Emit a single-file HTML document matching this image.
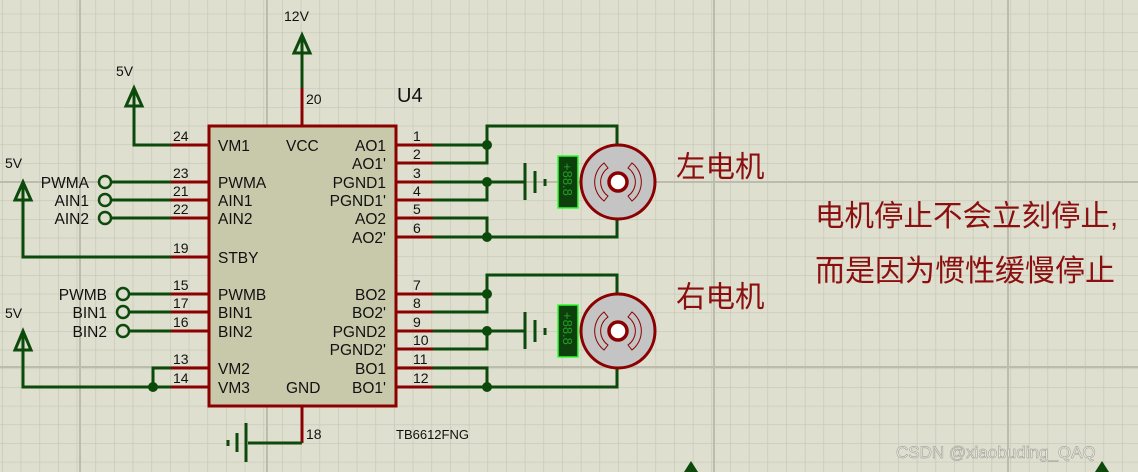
<!DOCTYPE html>
<html><head><meta charset="utf-8"><style>
html,body{margin:0;padding:0;background:#dfdfd0;}
svg{display:block;}
text{font-family:"Liberation Sans",Arial,sans-serif;fill:#111;}
.cn{font-family:"Liberation Sans","Noto Sans CJK SC",sans-serif;fill:#8b0f0f;}
</style></head><body>
<svg width="1138" height="472" viewBox="0 0 1138 472" xmlns="http://www.w3.org/2000/svg">
<defs>
<pattern id="g" x="2" y="13.7" width="18.67" height="18.67" patternUnits="userSpaceOnUse">
<path d="M0 0H18.67M0 0V18.67" stroke="#c6c6b6" stroke-width="1.3" fill="none"/>
</pattern>
<g id="motor">
<circle cx="0" cy="0" r="37" fill="#c4c4c4" stroke="#8b0000" stroke-width="3"/>
<circle cx="0" cy="0" r="9" fill="#fff" stroke="#8b0000" stroke-width="3.5"/>
<path d="M-14,-19 A24,24 0 0 0 -14,19 L-10,14 A17,17 0 0 1 -10,-14 Z" fill="none" stroke="#8b0000" stroke-width="1"/>
<path d="M14,-19 A24,24 0 0 1 14,19 L10,14 A17,17 0 0 0 10,-14 Z" fill="none" stroke="#8b0000" stroke-width="1"/>
</g>
</defs>
<rect width="1138" height="472" fill="#dfdfd0"/>
<rect width="1138" height="472" fill="url(#g)"/>
<g stroke="#bcbcac" stroke-width="2">
<path d="M80 0V472M267 0V472M714 0V472M1008 0V472M0 182H1138M0 367H1138"/>
</g>

<rect x="209" y="126" width="187" height="280" fill="#c8c8aa" stroke="#8b0000" stroke-width="3"/>
<g stroke="#8b0000" stroke-width="3">
<path d="M302 88V126M302 406V443"/>
<path d="M171 145H209M171 182H209M171 200H209M171 218H209M171 257H209M171 294H209M171 312H209M171 331H209M171 368H209M171 387H209"/>
<path d="M396 145H433M396 163H433M396 182H433M396 200H433M396 218H433M396 237H433M396 294H433M396 312H433M396 331H433M396 349H433M396 368H433M396 387H433"/>
</g>
<g stroke="#0b4a0b" stroke-width="3" fill="none">
<path d="M302 88V35"/>
<path d="M294 53L302 35L310 53Z"/>
<path d="M134 88V145H171"/>
<path d="M126 106L134 88L142 106Z"/>
<path d="M23 182V257H171"/>
<path d="M15 200L23 182L31 200Z"/>
<path d="M23 331V387H171M153 387V368H171"/>
<path d="M15 350L23 331L31 350Z"/>
<path d="M111 182H171M111 200H171M111 218H171"/>
<path d="M129 294H171M129 312H171M129 331H171"/>
<path d="M302 443H248"/>
<path d="M246 423V462M237 433V452M228 440V446"/>
<path d="M433 145H487M433 163H487V126H617V144M617 219V237H433M433 218H487V237M433 182H525M433 200H487V182"/>
<path d="M525 163V200M535 171V193M545 179V186"/>
<path d="M433 294H487M433 312H487V275H617V293M617 368V387H433M433 368H487V387M433 331H525M433 349H487V331"/>
<path d="M525 312V349M535 320V342M545 328V335"/>
</g>
<g fill="#0b4a0b">
<circle cx="487" cy="145" r="5"/><circle cx="487" cy="182" r="5"/><circle cx="487" cy="237" r="5"/>
<circle cx="487" cy="294" r="5"/><circle cx="487" cy="331" r="5"/><circle cx="487" cy="387" r="5"/>
<circle cx="153" cy="387" r="5"/>
</g>
<g fill="#dfdfd0" stroke="#0b4a0b" stroke-width="2.5">
<circle cx="105" cy="182" r="6"/><circle cx="105" cy="200" r="6"/><circle cx="105" cy="218" r="6"/>
<circle cx="123" cy="294" r="6"/><circle cx="123" cy="312" r="6"/><circle cx="123" cy="331" r="6"/>
</g>
<g>
<rect x="558" y="156" width="20" height="52" fill="#0d400d" stroke="#2aff2a" stroke-width="1.5"/>
<text transform="translate(563,163) rotate(90)" font-size="13" style="fill:#22a022">+88.8</text>
<rect x="558" y="305" width="20" height="52" fill="#0d400d" stroke="#2aff2a" stroke-width="1.5"/>
<text transform="translate(563,312) rotate(90)" font-size="13" style="fill:#22a022">+88.8</text>
</g>
<use href="#motor" x="618" y="182"/>
<use href="#motor" x="618" y="331"/>

<g font-size="15.5">
<text x="218" y="151">VM1</text><text x="286" y="151">VCC</text><text x="386" y="151" text-anchor="end">AO1</text>
<text x="386" y="169" text-anchor="end">AO1'</text>
<text x="218" y="188">PWMA</text><text x="386" y="188" text-anchor="end">PGND1</text>
<text x="218" y="206">AIN1</text><text x="386" y="206" text-anchor="end">PGND1'</text>
<text x="218" y="224">AIN2</text><text x="386" y="224" text-anchor="end">AO2</text>
<text x="386" y="243" text-anchor="end">AO2'</text>
<text x="218" y="263">STBY</text>
<text x="218" y="300">PWMB</text><text x="386" y="300" text-anchor="end">BO2</text>
<text x="218" y="318">BIN1</text><text x="386" y="318" text-anchor="end">BO2'</text>
<text x="218" y="337">BIN2</text><text x="386" y="337" text-anchor="end">PGND2</text>
<text x="386" y="355" text-anchor="end">PGND2'</text>
<text x="218" y="374">VM2</text><text x="386" y="374" text-anchor="end">BO1</text>
<text x="218" y="393">VM3</text><text x="286" y="393">GND</text><text x="386" y="393" text-anchor="end">BO1'</text>
<text x="89" y="188" text-anchor="end">PWMA</text>
<text x="89" y="206" text-anchor="end">AIN1</text>
<text x="89" y="224" text-anchor="end">AIN2</text>
<text x="107" y="300" text-anchor="end">PWMB</text>
<text x="107" y="318" text-anchor="end">BIN1</text>
<text x="107" y="337" text-anchor="end">BIN2</text>
</g>
<g font-size="14">
<text x="173" y="141">24</text><text x="173" y="178">23</text><text x="173" y="196">21</text><text x="173" y="214">22</text><text x="173" y="253">19</text>
<text x="173" y="290">15</text><text x="173" y="308">17</text><text x="173" y="327">16</text><text x="173" y="364">13</text><text x="173" y="383">14</text>
<text x="413" y="141">1</text><text x="413" y="159">2</text><text x="413" y="178">3</text><text x="413" y="196">4</text><text x="413" y="214">5</text><text x="413" y="233">6</text>
<text x="413" y="290">7</text><text x="413" y="308">8</text><text x="413" y="327">9</text><text x="413" y="345">10</text><text x="413" y="364">11</text><text x="413" y="383">12</text>
<text x="306" y="104">20</text><text x="306" y="439">18</text>
<text x="284" y="21">12V</text><text x="116" y="76">5V</text><text x="5" y="168">5V</text><text x="5" y="318">5V</text>
<text x="396" y="439" font-size="13">TB6612FNG</text>
</g>
<text x="397" y="102" font-size="20">U4</text>
<text class="cn" x="676" y="177" font-size="29.5">左电机</text>
<text class="cn" x="676" y="307" font-size="29.5">右电机</text>
<text class="cn" x="815" y="226" font-size="29.5">电机停止不会立刻停止,</text>
<text class="cn" x="815" y="281" font-size="30">而是因为惯性缓慢停止</text>
<text x="896" y="458" font-size="17" style="fill:#f2f2ec;stroke:#a8a89e;stroke-width:0.7">CSDN @xiaobuding_QAQ</text>
<path d="M684 472L691 461L698 472Z" fill="#0b4a0b"/>
<path d="M1095 472L1102 461L1109 472Z" fill="#0b4a0b"/>
</svg>
</body></html>
